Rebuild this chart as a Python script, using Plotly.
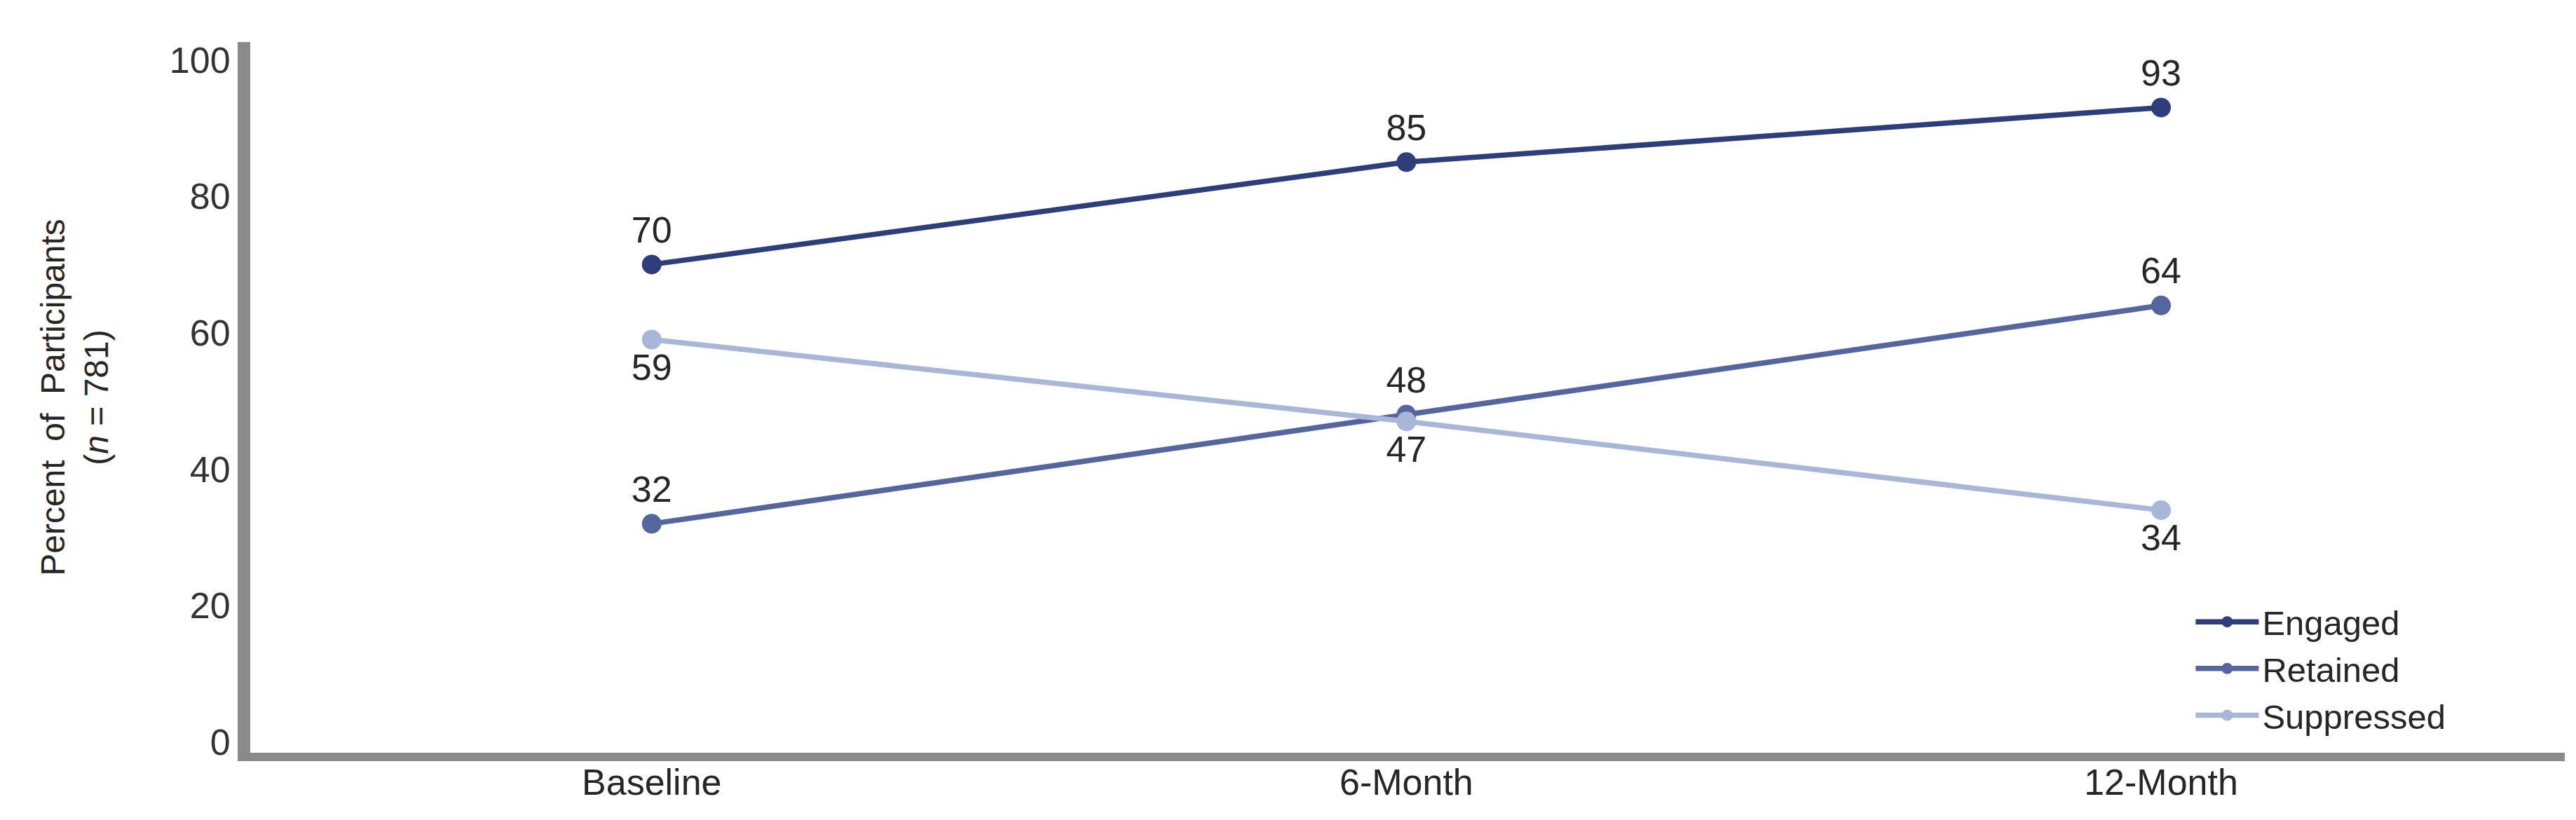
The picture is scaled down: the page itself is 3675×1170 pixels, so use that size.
import plotly.graph_objects as go

# timepoints on the x axis
timepoints = ["Baseline", "6-Month", "12-Month"]

# percent of participants (n = 781)
engaged = [70, 85, 93]
retained = [32, 48, 64]
suppressed = [59, 47, 34]

series_names = ["Engaged", "Retained", "Suppressed"]
line_colors = ["#2e3d7c", "#55669f", "#a8b6d8"]
label_pos = ["top center", "top center", "bottom center"]

y_ticks = [0, 20, 40, 60, 80, 100]

FONT = "Liberation Sans, Arial, sans-serif"

fig = go.Figure()
for name, vals, col, pos in zip(series_names, [engaged, retained, suppressed], line_colors, label_pos):
    fig.add_trace(go.Scatter(
        x=timepoints, y=vals, name=name,
        mode="lines+markers+text",
        text=[str(v) for v in vals], textposition=pos,
        textfont=dict(size=52, color="#262626", family=FONT),
        line=dict(color=col, width=7.5),
        marker=dict(color=col, size=28),
        cliponaxis=False,
    ))

fig.update_layout(
    width=3675, height=1170,
    margin=dict(l=349, r=24, t=52, b=104),
    paper_bgcolor="white", plot_bgcolor="white",
    font=dict(family=FONT, color="#333333"),
    showlegend=True,
    legend=dict(
        x=0.839, y=0.014, xanchor="left", yanchor="bottom",
        font=dict(size=49, color="#262626", family=FONT),
        bgcolor="rgba(0,0,0,0)", tracegroupgap=0, itemwidth=90,
    ),
)

fig.update_xaxes(
    type="category", range=[-0.532, 2.535],
    showline=True, linecolor="#8a8a8a", linewidth=12,
    showgrid=False, zeroline=False, ticks="",
    tickfont=dict(size=52, color="#262626", family=FONT),
    ticklabelstandoff=-14,
)
fig.update_yaxes(
    range=[-1.55, 102.6], tickvals=y_ticks,
    showline=True, linecolor="#8a8a8a", linewidth=18,
    showgrid=False, zeroline=False, ticks="",
    tickfont=dict(size=52, color="#333333", family=FONT),
    title=dict(text="Percent  of  Participants<br>(<i>n</i> = 781)",
               font=dict(size=48, color="#262626", family=FONT), standoff=80),
)

fig.write_html("out.html")
